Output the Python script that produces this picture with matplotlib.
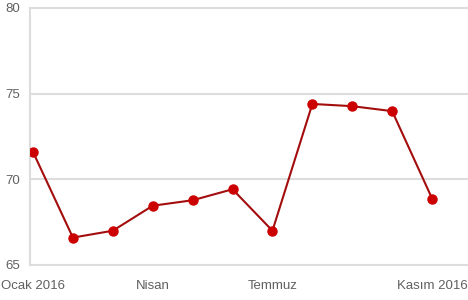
import matplotlib
matplotlib.use("Agg")
import matplotlib.pyplot as plt

months = ["Ocak 2016", "Şubat", "Mart", "Nisan", "Mayıs", "Haziran", "Temmuz",
          "Ağustos", "Eylül", "Ekim", "Kasım 2016"]
values = [71.6, 66.6, 67.0, 68.46, 68.78, 69.42, 67.0, 74.4, 74.27, 73.98, 68.88]
tick_idx = [0, 3, 6, 10]
tick_labels = ["Ocak 2016", "Nisan", "Temmuz", "Kasım 2016"]
y_ticks = [65, 70, 75, 80]

plt.rcParams['font.family'] = ['Liberation Sans', 'DejaVu Sans']

fig = plt.figure(figsize=(4.68, 3.0), dpi=100)
ax = fig.add_axes([30/468, 35/300, 1 - 30/468, 257/300])

x = list(range(len(values)))
ax.plot(x, values, color='#a30d0d', linewidth=1.5, zorder=3)
ax.plot(x, values, linestyle='none', marker='o', markersize=6.5,
        color='#cc0000', zorder=4)

ax.set_ylim(65, 80)
ax.set_xlim(-0.075, 10.9)
ax.set_yticks(y_ticks)
ax.set_yticklabels([str(v) for v in y_ticks])
ax.set_xticks(tick_idx)
ax.set_xticklabels(tick_labels)

for v in y_ticks:
    ax.axhline(v, color='#dddddd', linewidth=1.5, zorder=1, clip_on=False)

for s in ['top', 'right', 'bottom']:
    ax.spines[s].set_visible(False)
ax.spines['left'].set_color('#dddddd')
ax.spines['left'].set_linewidth(1.5)

ax.tick_params(axis='both', length=0, labelsize=9.5, labelcolor='#606060')
ax.tick_params(axis='y', pad=7)
ax.tick_params(axis='x', pad=10.5)

fig.savefig("out.png", dpi=100)
